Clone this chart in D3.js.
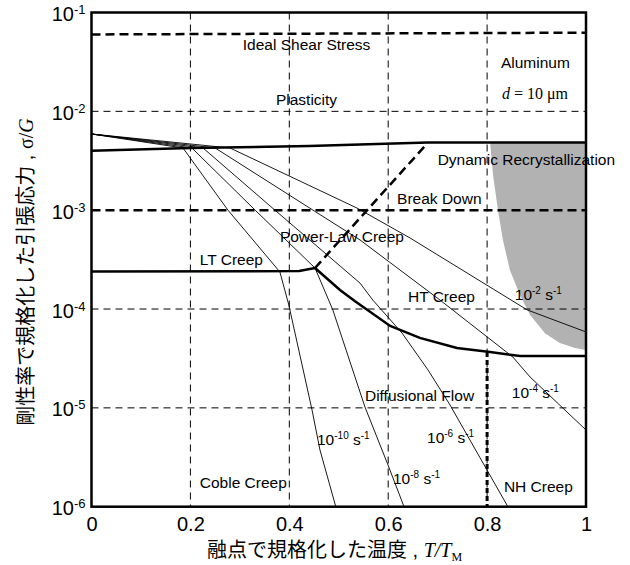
<!DOCTYPE html>
<html>
<head>
<meta charset="utf-8">
<script src="https://cdn.jsdelivr.net/npm/d3@7"></script>
<style>
body { margin: 0; background: #fff; }
text { font-family: "Liberation Sans", Arial, sans-serif; fill: #000; }
</style>
</head>
<body>
<svg id="chart" width="630" height="565"></svg>
<script>
// axis ticks
const xTicks = [0, 0.2, 0.4, 0.6, 0.8, 1];
const yTicks = [1e-1, 1e-2, 1e-3, 1e-4, 1e-5, 1e-6];
const xGrid = [0.2, 0.4, 0.6, 0.8];
const yGrid = [1e-2, 1e-4, 1e-5];

// strain-rate contours, [T/TM, sigma/G]
const rate1e2 = [[0, 5.9e-3], [0.280, 4.26e-3], [0.537, 1.05e-3], [0.644, 5.24e-4], [0.881, 9.8e-5], [1, 5.86e-5]];
const rate1e4 = [[0, 5.9e-3], [0.250, 4.26e-3], [0.448, 1.0e-3], [0.543, 5.0e-4], [0.705, 1.23e-4], [0.852, 3.27e-5], [0.887, 2.05e-5], [1, 5.97e-6]];
const rate1e6 = [[0, 5.9e-3], [0.2255, 4.26e-3], [0.371, 1.0e-3], [0.543, 1.83e-4], [0.569, 1.23e-4], [0.628, 5.71e-5], [0.6805, 2.42e-5], [0.725, 1.07e-5], [0.842, 1e-6]];
const rate1e8 = [[0, 5.9e-3], [0.203, 4.26e-3], [0.331, 1.0e-3], [0.452, 2.6e-4], [0.488, 9.8e-5], [0.553, 1.02e-5], [0.598, 2.77e-6], [0.632, 1e-6]];
const rate1e10 = [[0, 5.9e-3], [0.185, 4.26e-3], [0.276, 1.0e-3], [0.381, 2.37e-4], [0.399, 1.10e-4], [0.446, 9.5e-6], [0.462, 3.75e-6], [0.494, 1e-6]];

// field boundaries
const plasticity = [[0, 4.0e-3], [0.2, 4.25e-3], [0.44, 4.45e-3], [0.68, 4.85e-3], [1, 4.85e-3]];
const ltCreep = [[0, 2.4e-4], [0.42, 2.42e-4], [0.452, 2.6e-4]];
const htCreep = [[0.452, 2.6e-4], [0.5025, 1.56e-4], [0.533, 1.2e-4], [0.604, 6.74e-5], [0.664, 5.1e-5], [0.739, 4.03e-5], [0.806, 3.67e-5], [0.8665, 3.35e-5], [1, 3.35e-5]];
const breakDownSlope = [[0.452, 2.6e-4], [0.68, 4.8e-3]];
const idealShear = [[0, 0.060], [1, 0.0625]];
const breakDownLevel = [[0, 1e-3], [1, 1e-3]];
const nhCreep = [[0.8, 3.67e-5], [0.8, 1e-6]];
const recrystArea = [[0.806, 4.85e-3], [0.812, 2.27e-3], [0.822, 1.0e-3], [0.832, 5.0e-4], [0.846, 2.48e-4],
    [0.8665, 1.39e-4], [0.887, 8.7e-5], [0.917, 5.7e-5], [0.947, 4.53e-5], [0.978, 4.03e-5], [1, 3.85e-5], [1, 4.85e-3]];

// region labels: text, T/TM, sigma/G (left, baseline)
const fieldLabels = [
    ["Ideal Shear Stress", 0.306, 0.0418],
    ["Aluminum", 0.828, 0.0274],
    ["Plasticity", 0.373, 0.01159],
    ["Dynamic Recrystallization", 0.70, 2.86e-3],
    ["Break Down", 0.618, 1.156e-3],
    ["Power-Law Creep", 0.381, 4.76e-4],
    ["LT Creep", 0.219, 2.79e-4],
    ["HT Creep", 0.640, 1.18e-4],
    ["Diffusional Flow", 0.553, 1.17e-5],
    ["NH Creep", 0.834, 1.41e-6],
    ["Coble Creep", 0.219, 1.545e-6]
];
// strain-rate labels: exponent, T/TM, sigma/G
const rateLabels = [
    ["-2", 0.856, 1.23e-4],
    ["-4", 0.850, 1.26e-5],
    ["-6", 0.6785, 4.4e-6],
    ["-8", 0.6097, 1.7e-6],
    ["-10", 0.456, 4.2e-6]
];

const svg = d3.select("#chart");
const width = 630, height = 565;
const margin = { top: 12.5, right: 44, bottom: 58.3, left: 91.5 };

const x = d3.scaleLinear()
    .domain([0, 1])
    .range([margin.left, width - margin.right]);

const y = d3.scaleLog()
    .domain([1e-6, 1e-1])
    .range([height - margin.bottom, margin.top]);

const line = d3.line()
    .x(d => x(d[0]))
    .y(d => y(d[1]));

// shaded dynamic recrystallization area
svg.append("path")
    .attr("d", line(recrystArea) + "Z")
    .attr("fill", "#b2b2b2")
    .attr("stroke", "none");

// grid
svg.selectAll(".vgrid")
    .data(xGrid)
    .enter()
    .append("line")
    .attr("x1", d => x(d)).attr("x2", d => x(d))
    .attr("y1", y(1e-1)).attr("y2", y(1e-6))
    .attr("stroke", "#000").attr("stroke-width", 1)
    .attr("stroke-dasharray", "7,5");

svg.selectAll(".hgrid")
    .data(yGrid)
    .enter()
    .append("line")
    .attr("x1", x(0)).attr("x2", x(1))
    .attr("y1", d => y(d)).attr("y2", d => y(d))
    .attr("stroke", "#000").attr("stroke-width", 1)
    .attr("stroke-dasharray", "7,5");

// thin strain-rate contours
[rate1e2, rate1e4, rate1e6, rate1e8, rate1e10].forEach(r => {
    svg.append("path")
        .datum(r)
        .attr("fill", "none")
        .attr("stroke", "#000")
        .attr("stroke-width", 0.9)
        .attr("d", line);
});

// thick solid boundaries
[plasticity, ltCreep, htCreep].forEach(b => {
    svg.append("path")
        .datum(b)
        .attr("fill", "none")
        .attr("stroke", "#000")
        .attr("stroke-width", 2.5)
        .attr("d", line);
});

// thick dashed boundaries
[idealShear, breakDownLevel, breakDownSlope].forEach(b => {
    svg.append("path")
        .datum(b)
        .attr("fill", "none")
        .attr("stroke", "#000")
        .attr("stroke-width", 2.5)
        .attr("stroke-dasharray", "9,5")
        .attr("d", line);
});

svg.append("path")
    .datum(nhCreep)
    .attr("fill", "none")
    .attr("stroke", "#000")
    .attr("stroke-width", 3)
    .attr("stroke-dasharray", "5,3")
    .attr("d", line);

// frame
svg.append("rect")
    .attr("x", x(0)).attr("y", y(1e-1))
    .attr("width", x(1) - x(0)).attr("height", y(1e-6) - y(1e-1))
    .attr("fill", "none")
    .attr("stroke", "#000")
    .attr("stroke-width", 2.5);

// Axes
const gx = svg.append("g")
    .attr("transform", `translate(0, ${y(1e-6)})`)
    .call(d3.axisBottom(x).tickValues(xTicks).tickSize(0).tickFormat(d => d));
gx.select(".domain").remove();
gx.selectAll("text")
    .attr("y", 24).attr("dy", 0)
    .style("font-family", "'Liberation Sans', Arial, sans-serif")
    .style("font-size", "20px");

const gy = svg.append("g")
    .attr("transform", `translate(${x(0)}, 0)`)
    .call(d3.axisLeft(y).tickValues(yTicks).tickSize(0));
gy.select(".domain").remove();
gy.selectAll("text")
    .attr("x", -6).attr("y", 8).attr("dy", 0)
    .style("font-family", "'Liberation Sans', Arial, sans-serif")
    .style("font-size", "20px")
    .each(function(d) {
        const t = d3.select(this).text("");
        t.append("tspan").text("10");
        t.append("tspan").attr("dy", -7).style("font-size", "13px").text(Math.round(Math.log10(d)));
    });

// Labels
svg.selectAll(".field")
    .data(fieldLabels)
    .enter()
    .append("text")
    .attr("x", d => x(d[1]))
    .attr("y", d => y(d[2]))
    .style("font-size", "15.5px")
    .text(d => d[0]);

svg.append("text")
    .attr("x", x(0.830))
    .attr("y", y(0.01334))
    .style("font-family", "'Liberation Serif', 'Times New Roman', serif")
    .style("font-size", "16px")
    .call(t => {
        t.append("tspan").style("font-style", "italic").text("d");
        t.append("tspan").text(" = 10 \u03bcm");
    });

rateLabels.forEach(r => {
    const t = svg.append("text")
        .attr("x", x(r[1]))
        .attr("y", y(r[2]))
        .style("font-size", "15.5px");
    t.append("tspan").text("10");
    t.append("tspan").attr("dy", -6).style("font-size", "10px").text(r[0]);
    t.append("tspan").attr("dy", 6).text(" s");
    t.append("tspan").attr("dy", -6).style("font-size", "10px").text("-1");
});

// axis titles
const xt = svg.append("text")
    .attr("x", 207)
    .attr("y", 557)
    .style("font-size", "20px");
xt.append("tspan").style("font-family", "'Noto Sans CJK JP', sans-serif").text("融点で規格化した温度");
xt.append("tspan").text(" , ");
xt.append("tspan").style("font-family", "'Liberation Serif', serif").style("font-style", "italic").text("T/T");
xt.append("tspan").attr("dy", 4).style("font-family", "'Liberation Serif', serif").style("font-size", "12px").text("M");

const yt = svg.append("text")
    .attr("transform", "translate(33, 272) rotate(-90)")
    .attr("text-anchor", "middle")
    .style("font-size", "20px");
yt.append("tspan").style("font-family", "'Noto Sans CJK JP', sans-serif").text("剛性率で規格化した引張応力");
yt.append("tspan").text(" , ");
yt.append("tspan").style("font-family", "'Liberation Serif', serif").text("\u03c3/");
yt.append("tspan").style("font-family", "'Liberation Serif', serif").style("font-style", "italic").text("G");
</script>
</body>
</html>
